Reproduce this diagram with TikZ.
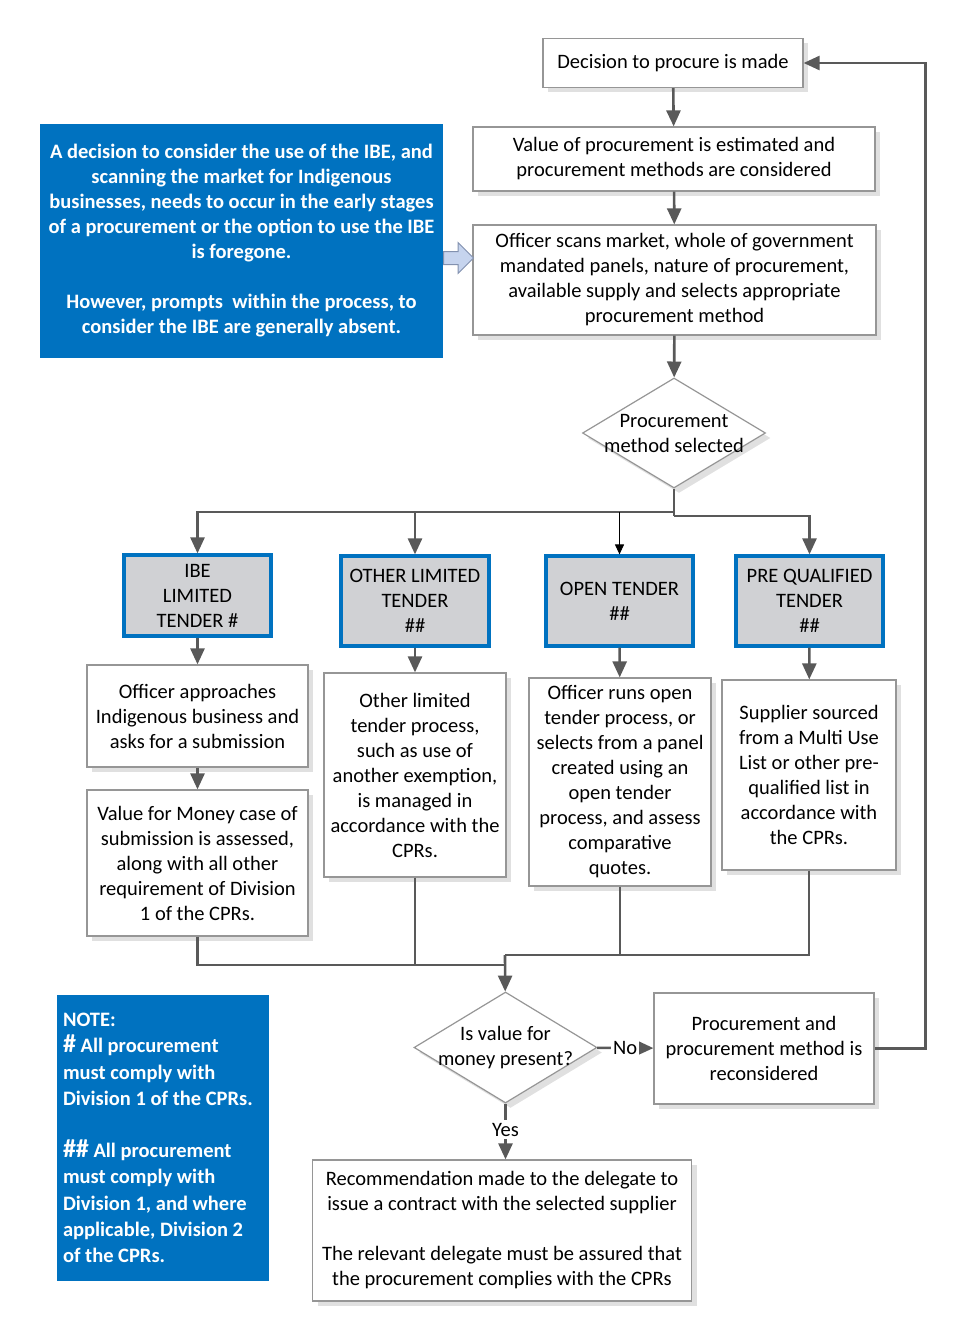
\documentclass[tikz,border=0pt]{standalone}
\usepackage{fontspec}
\setmainfont{Carlito}
\usetikzlibrary{shapes.geometric,shapes.arrows,arrows.meta,shadows}
\definecolor{ibeblue}{RGB}{0,114,192}
\definecolor{linegrey}{RGB}{89,89,89}
\definecolor{edgegrey}{RGB}{150,150,150}
\definecolor{tendergrey}{RGB}{208,209,212}
\definecolor{hintblue}{RGB}{198,212,238}
\definecolor{hintedge}{RGB}{130,145,175}

\begin{document}
\begin{tikzpicture}[x=0.5pt,y=-0.5pt,
    every node/.style={font=\fontsize{10.25}{12.5}\selectfont, align=center, inner sep=0pt},
    boxshadow/.style={drop shadow={shadow xshift=2.5pt,shadow yshift=-2.5pt,fill=black!12,opacity=1}},
    box/.style={draw=edgegrey, fill=white, boxshadow, line width=0.6pt},
    tender/.style={draw=ibeblue, fill=tendergrey, line width=1.6pt},
    decision/.style={diamond, draw=edgegrey, fill=white, boxshadow, line width=0.6pt},
    bluenote/.style={fill=ibeblue, text=white, font=\fontsize{10.25}{12.5}\selectfont\bfseries},
    flow/.style={draw=linegrey, line width=1.3pt, -{Triangle[length=8pt,width=7pt]}},
    link/.style={draw=linegrey, line width=1.3pt}]%
    \useasboundingbox (0,0) rectangle (967,1343);

    % top of the process
    \node[box, minimum width=130pt, minimum height=24.5pt] (decide) at (673,63) {Decision to procure is made};
    \node[box, minimum width=201pt, minimum height=32pt] (estimate) at (674,159) {Value of procurement is estimated and\\procurement methods are considered};
    \node[box, minimum width=201.5pt, minimum height=55pt] (scan) at (674.5,280) {Officer scans market, whole of government\\mandated panels, nature of procurement,\\available supply and selects appropriate\\procurement method};
    \node[bluenote, minimum width=201.5pt, minimum height=117pt] (ibenote) at (241.5,241) {A decision to consider the use of the IBE, and\\scanning the market for Indigenous\\businesses, needs to occur in the early stages\\of a procurement or the option to use the IBE\\is foregone.\\[12.5pt]However, prompts\ \ within the process, to\\consider the IBE are generally absent.};
    \node[single arrow, draw=hintedge, fill=hintblue, line width=0.5pt, minimum height=15pt, inner xsep=0pt, inner ysep=3pt, single arrow head extend=4.5pt, anchor=tail] (hint) at (443,258) {};

    \node[decision, minimum width=91.5pt, minimum height=55pt] (select) at (674,433) {};
    \node (selecttext) at (select) {Procurement\\method selected};

    % tender methods
    \node[tender, minimum width=73.5pt, minimum height=40.5pt] (ibe) at (197.5,595.5) {IBE\\LIMITED\\TENDER \#};
    \node[tender, minimum width=74pt, minimum height=45pt] (other) at (415,601) {OTHER LIMITED\\TENDER\\\#\#};
    \node[tender, minimum width=73.5pt, minimum height=45pt] (open) at (619.5,601) {OPEN TENDER\\\#\#};
    \node[tender, minimum width=73.5pt, minimum height=45pt] (prequal) at (809.5,601) {PRE QUALIFIED\\TENDER\\\#\#};

    \node[box, minimum width=110.5pt, minimum height=51pt] (approach) at (197.5,716) {Officer approaches\\Indigenous business and\\asks for a submission};
    \node[box, minimum width=110.5pt, minimum height=73pt] (vfmcase) at (197.5,863) {Value for Money case of\\submission is assessed,\\along with all other\\requirement of Division\\1 of the CPRs.};
    \node[box, minimum width=91pt, minimum height=102pt] (otherproc) at (415,775) {Other limited\\tender process,\\such as use of\\another exemption,\\is managed in\\accordance with the\\CPRs.};
    \node[box, minimum width=91pt, minimum height=104pt] (openproc) at (620,782) {Officer runs open\\tender process, or\\selects from a panel\\created using an\\open tender\\process, and assess\\comparative\\quotes.};
    \node[box, minimum width=87pt, minimum height=95pt] (supplier) at (809,775) {Supplier sourced\\from a Multi Use\\List or other pre-\\qualified list in\\accordance with\\the CPRs.};

    % value for money check
    \node[decision, minimum width=91.5pt, minimum height=55.5pt] (vfm) at (505.5,1047.5) {};
    \node (vfmtext) at (vfm) {Is value for\\money present?};
    \node[box, minimum width=110pt, minimum height=55.5pt] (recon) at (764,1048.5) {Procurement and\\procurement method is\\reconsidered};
    \node[box, minimum width=189.5pt, minimum height=70.5pt] (recommend) at (502,1230.5) {Recommendation made to the delegate to\\issue a contract with the selected supplier\\[12.5pt]The relevant delegate must be assured that\\the procurement complies with the CPRs};
    \node[bluenote, font=\fontsize{10.25}{13.1}\selectfont\bfseries, text width=100pt, inner xsep=3pt, minimum height=143pt, align=flush left] (note) at (163,1138) {NOTE:\\{\fontsize{13}{13.1}\selectfont\#} All procurement\\must comply with\\Division 1 of the CPRs.\\[13.1pt]{\fontsize{13}{13.1}\selectfont\#\#} All procurement\\must comply with\\Division 1, and where\\applicable, Division 2\\of the CPRs.};

    % connectors
    \coordinate (split) at (674,512);
    \coordinate (splitR) at (674,516);
    \coordinate (mergeL) at (505,965);
    \coordinate (mergeR) at (505,955);
    \draw[flow] (decide) -- (estimate);
    \draw[flow] (estimate) -- (scan);
    \draw[flow] (scan) -- (select);
    \draw[link] (select) -- (splitR);
    \draw[flow] (split) -| (ibe);
    \draw[flow] (split -| other) -- (other);
    \draw[black, line width=0.5pt, -{Triangle[length=5pt,width=4.5pt]}] (split -| open) -- (open);
    \draw[flow] (splitR) -| (prequal);
    \draw[flow] (ibe) -- (approach);
    \draw[flow] (approach) -- (vfmcase);
    \draw[flow] (other) -- (otherproc);
    \draw[flow] (open) -- (openproc);
    \draw[flow] (prequal) -- (supplier);
    \draw[link] (vfmcase) |- (mergeL);
    \draw[link] (otherproc) -- (otherproc |- mergeL);
    \draw[link] (supplier) |- (mergeR);
    \draw[link] (openproc) -- (openproc |- mergeR);
    \draw[flow] (mergeR) -- (vfm);
    \draw[flow] (vfm) -- (recon) node[midway, fill=white, inner xsep=1pt, inner ysep=1pt] {No};
    \draw[flow] (vfm) -- (vfm |- recommend.north) node[pos=0.47, fill=white, inner xsep=1pt, inner ysep=1.5pt] {Yes};
    \draw[flow] (recon.east) -- ++(51,0) |- (decide.east);
\end{tikzpicture}
\end{document}
